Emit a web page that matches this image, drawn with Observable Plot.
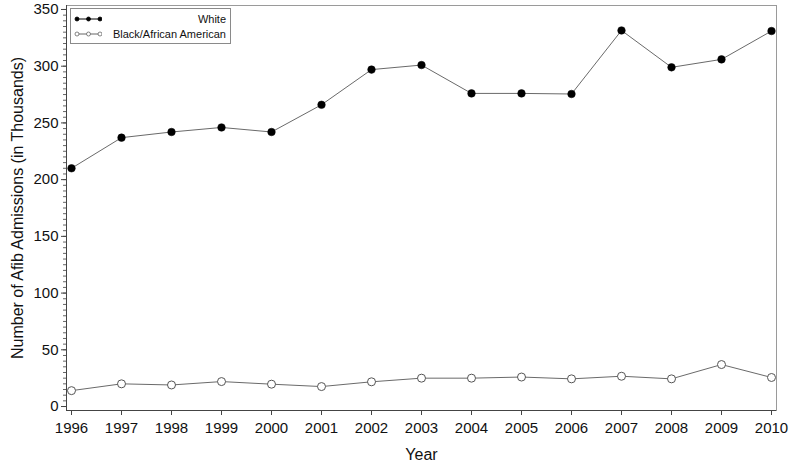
<!DOCTYPE html>
<html><head><meta charset="utf-8">
<script src="https://cdn.jsdelivr.net/npm/d3@7"></script>
<script src="https://cdn.jsdelivr.net/npm/@observablehq/plot@0.6"></script>
<style>
body{margin:0;background:#fff;font-family:Arial,"Liberation Sans",sans-serif;}
#wrap{position:relative;width:790px;height:464px;}
#legend{position:absolute;left:70px;top:8px;width:159px;height:34px;border:1px solid #8a8a8a;background:#fff;font-size:11px;color:#111;}
#legend .row{position:absolute;left:0;right:4px;height:14px;line-height:14px;}
#legend svg{position:absolute;left:3px;top:0;}
#legend span{position:absolute;right:0;}
</style></head><body><div id="wrap"><div id="chart"></div><div id="legend"></div></div>
<script>
const years = [1996,1997,1998,1999,2000,2001,2002,2003,2004,2005,2006,2007,2008,2009,2010];
const white = [210,237,242,246,242,266,297,301,276,276,275.5,331.5,299,306,331];
const black = [14,20,19,22,19.7,17.6,21.8,25,25,26,24.4,26.7,24.4,37,25.6];
const seriesNames = ["White","Black/African American"];
const yTicks = [0,50,100,150,200,250,300,350];
const yMinor = d3.range(0,351,5);
const xDomain = [1995.9,2010.1];
const yDomain = [-3.5,353.5];
const yTitle = "Number of Afib Admissions (in Thousands)";
const xTitle = "Year";

const data = years.flatMap((yr,i)=>[
  {year:yr,value:white[i],series:seriesNames[0]},
  {year:yr,value:black[i],series:seriesNames[1]}
]);

const chart = Plot.plot({
  width:790, height:464,
  marginLeft:66, marginRight:14, marginTop:5, marginBottom:54,
  style:{fontFamily:'Arial,"Liberation Sans",sans-serif', fontSize:"15px", background:"#fff", color:"#111", overflow:"visible"},
  x:{domain:xDomain},
  y:{domain:yDomain},
  marks:[
    Plot.frame({stroke:"#9a9a9a"}),
    Plot.ruleX([xDomain[0]],{stroke:"#444"}),
    Plot.ruleY([yDomain[0]],{stroke:"#444"}),
    Plot.axisY(yMinor,{tickSize:3,tickFormat:()=>"",label:null,stroke:"#666"}),
    Plot.axisY(yTicks,{tickSize:5,tickPadding:3,stroke:"#444",label:null}),
    Plot.axisX(years,{tickSize:5,tickPadding:7,stroke:"#444",tickFormat:d=>String(d),label:null}),
    Plot.text([yTitle],{frameAnchor:"left",rotate:-90,dx:-49,textAnchor:"middle",lineAnchor:"middle",fontSize:16,fill:"#111"}),
    Plot.text([xTitle],{frameAnchor:"bottom",dy:44,textAnchor:"middle",lineAnchor:"middle",fontSize:16,fill:"#111"}),
    Plot.line(data,{x:"year",y:"value",z:"series",stroke:"#6a6a6a",strokeWidth:1}),
    Plot.dot(data.filter(d=>d.series===seriesNames[0]),{x:"year",y:"value",r:3.8,fill:"#000",stroke:"#000",strokeWidth:0.5}),
    Plot.dot(data.filter(d=>d.series===seriesNames[1]),{x:"year",y:"value",r:4,fill:"#fff",stroke:"#555",strokeWidth:1})
  ]
});
document.getElementById("chart").appendChild(chart);

// legend
const lg = document.getElementById("legend");
seriesNames.forEach((name,i)=>{
  const row = document.createElement("div");
  row.className="row";
  row.style.top = (3+i*15)+"px";
  const filled = i===0;
  row.innerHTML = `<svg width="28" height="14"><line x1="3" x2="26" y1="7" y2="7" stroke="${filled?"#000":"#666"}" stroke-width="1"/>`+
    [3,14.5,26].map(cx=>`<circle cx="${cx}" cy="7" r="2" fill="${filled?"#000":"#fff"}" stroke="${filled?"#000":"#666"}" stroke-width="0.8"/>`).join("")+
    `</svg><span>${name}</span>`;
  lg.appendChild(row);
});
</script>
</body></html>
